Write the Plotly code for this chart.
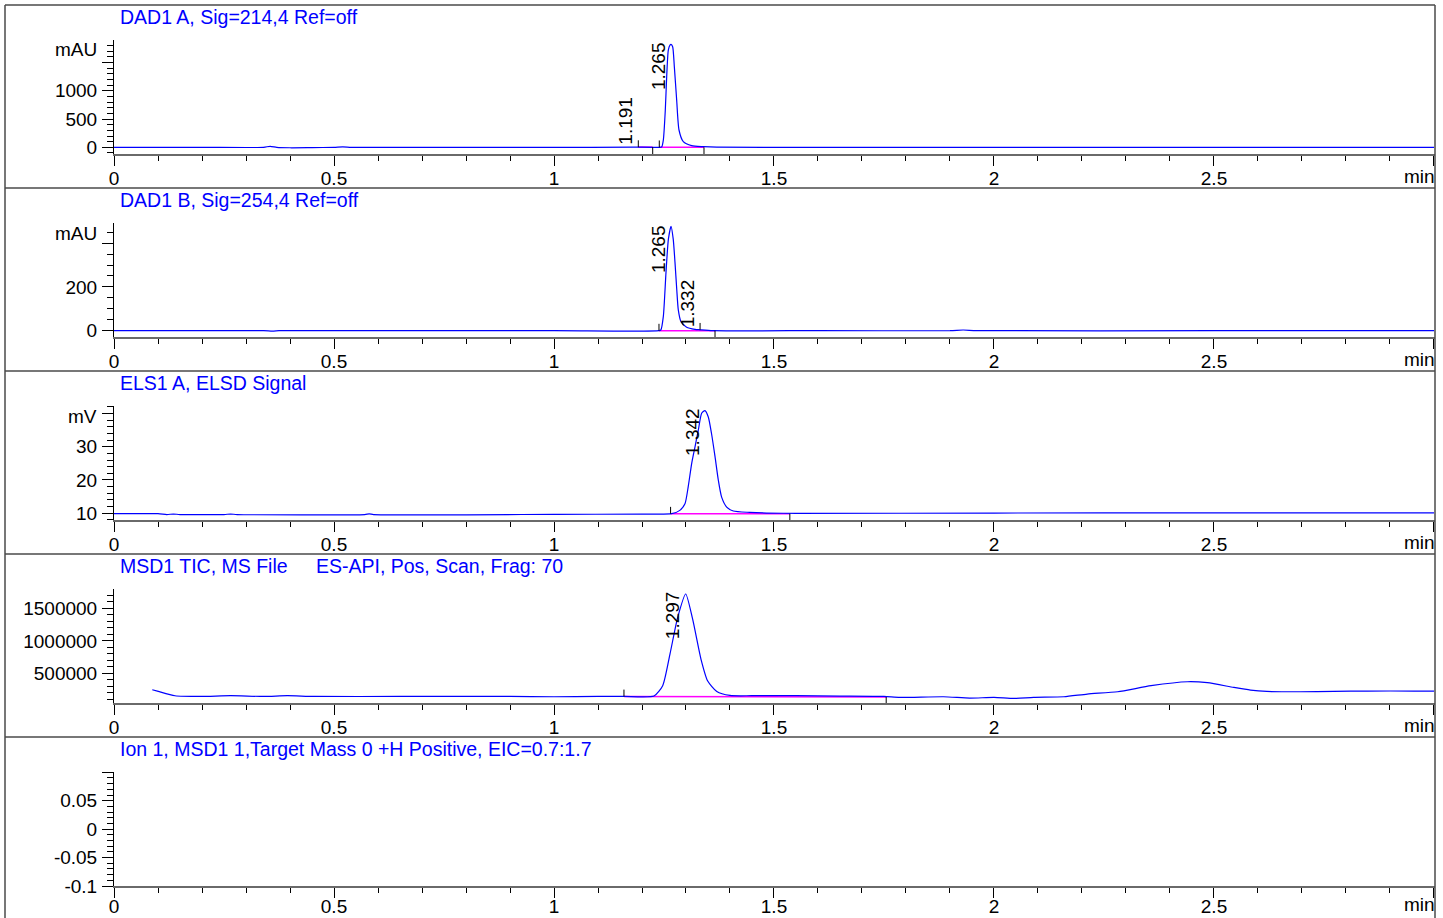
import plotly.graph_objects as go

W, H = 1443, 918
FONT = "Liberation Sans, Arial, sans-serif"
BLUE = "#0000FF"
MAGENTA = "#FF00FF"

# ---------------- data ----------------
titles = [
    ["DAD1 A, Sig=214,4 Ref=off"],
    ["DAD1 B, Sig=254,4 Ref=off"],
    ["ELS1 A, ELSD Signal"],
    ["MSD1 TIC, MS File", "ES-API, Pos, Scan, Frag: 70"],
    ["Ion 1, MSD1 1,Target Mass 0 +H Positive, EIC=0.7:1.7"],
]
units = ["mAU", "mAU", "mV", "", ""]

x_tick_vals = [0, 0.5, 1, 1.5, 2, 2.5, 3]
x_tick_text = ["0", "0.5", "1", "1.5", "2", "2.5", ""]

# DAD1 A (mAU)
dad_a_t = [0.00, 0.20, 0.34, 0.355, 0.37, 0.40, 0.45, 0.50, 0.52, 0.54, 0.70, 1.00, 1.18, 1.191,
           1.20, 1.235, 1.2447, 1.2485, 1.2530, 1.2561, 1.2598, 1.2636, 1.2659, 1.2697, 1.2735,
           1.2788, 1.2841, 1.2939, 1.3129, 1.3394, 1.37, 1.60, 2.00, 2.50, 3.00]
dad_a_v = [0, 0, 0, 18, 0, -8, -5, 0, 8, 0, 0, 0, 2, 4,
           2, 0, 5, 129, 659, 1248, 1719, 1807, 1820, 1778, 1425,
           836, 306, 100, 29, 12, 2, 0, 0, 0, 0]

# DAD1 B (mAU)
dad_b_t = [0.00, 0.34, 0.36, 0.375, 0.40, 1.00, 1.2386, 1.2430, 1.2485, 1.2545, 1.2600, 1.2660,
           1.2710, 1.2750, 1.2790, 1.2825, 1.2886, 1.3015, 1.3205, 1.3320, 1.3610, 1.60, 1.90,
           1.93, 1.96, 2.50, 3.00]
dad_b_v = [0, 0, -2, 0, 0, 0, 0, 4, 65, 264, 418, 477,
           418, 312, 188, 95, 41, 16, 6, 4, 0, 0, 0,
           3, 0, 0, 0]

# ELSD (mV)
elsd_t = [0.00, 0.10, 0.12, 0.135, 0.15, 0.25, 0.265, 0.28, 0.57, 0.58, 0.59, 1.00, 1.20, 1.2674,
          1.286, 1.2977, 1.305, 1.313, 1.3205, 1.328, 1.3356, 1.343, 1.3507, 1.358, 1.366, 1.3735,
          1.381, 1.3925, 1.4075, 1.445, 1.483, 1.55, 2.00, 2.50, 3.00]
elsd_v = [9.8, 9.8, 9.55, 9.7, 9.55, 9.55, 9.7, 9.55, 9.55, 9.75, 9.55, 9.6, 9.7, 9.8,
          10.8, 12.8, 17.9, 25.0, 30.0, 35.0, 40.1, 40.9, 39.0, 34.0, 27.0, 19.9,
          14.8, 11.8, 10.6, 10.2, 10.0, 9.9, 10.0, 10.05, 10.05]

# MSD1 TIC (counts)
tic_t = [0.087, 0.1007, 0.1386, 0.197, 0.2652, 0.341, 0.394, 0.455, 0.65, 0.90, 1.00, 1.10, 1.159,
         1.2273, 1.247, 1.2636, 1.2811, 1.2993, 1.315, 1.334, 1.349, 1.370, 1.400, 1.45, 1.55,
         1.65, 1.75, 1.786, 1.885, 1.945, 2.0, 2.045, 2.09, 2.159, 2.212, 2.281, 2.357, 2.44,
         2.485, 2.545, 2.583, 2.62, 2.696, 2.772, 2.848, 2.955, 3.0]
tic_v = [249000, 223000, 157000, 146000, 157000, 146000, 157000, 146000, 146000, 146000, 141000,
         146000, 146000, 152000, 311000, 798000, 1361000, 1721000, 1337000, 721000, 388000, 223000,
         161000, 157000, 157000, 152000, 146000, 131000, 141000, 121000, 131000, 115000, 131000,
         141000, 183000, 218000, 311000, 372000, 357000, 285000, 244000, 223000, 218000, 223000,
         229000, 229000, 229000]

# EIC (empty signal)
eic_t = []
eic_v = []

signals_t = [dad_a_t, dad_b_t, elsd_t, tic_t, eic_t]
signals_v = [dad_a_v, dad_b_v, elsd_v, tic_v, eic_v]
signal_shape = ["spline", "spline", "spline", "spline", "linear"]

# integration baselines (start t, end t, start value, end value)
baselines = [
    [(1.1916, 1.2243, 3, 3), (1.2393, 1.3409, 0, 0)],
    [(1.2386, 1.3660, 0, 0)],
    [(1.265, 1.536, 9.8, 9.8)],
    [(1.159, 1.755, 146000, 137000)],
    [],
]
# integration event markers (time, value, direction)
events = [
    [(1.1916, 3, "up"), (1.2243, 3, "down"), (1.2393, 0, "up"), (1.3409, 0, "down")],
    [(1.2386, 0, "up"), (1.332, 4, "up"), (1.366, 0, "down")],
    [(1.265, 9.8, "up"), (1.536, 9.8, "down")],
    [(1.159, 146000, "up"), (1.755, 137000, "down")],
    [],
]
# peak labels (retention time, height, placement)
peaks = [
    [(1.191, 4, "base"), (1.265, 1820, "top")],
    [(1.265, 477, "top"), (1.332, 4, "base")],
    [(1.342, 40.9, "top")],
    [(1.297, 1721000, "top")],
    [],
]

y_ranges = [[-118, 1896], [-29, 492], [7.9, 42.3], [45000, 1798000], [-0.1, 0.1005]]
y_tick_vals = [[0, 500, 1000, 1500], [0, 200, 400], [10, 20, 30, 40],
               [500000, 1000000, 1500000], [-0.1, -0.05, 0, 0.05, 0.1]]
y_tick_text = [["0", "500", "1000", ""], ["0", "200", ""], ["10", "20", "30", ""],
               ["500000", "1000000", "1500000"], ["-0.1", "-0.05", "0", "0.05", ""]]
y_minor = [100, 50, 2, 100000, 0.01]
x_range = [0, 3.0023]
x_label_standoff = [-4, -4, -4, -4, -8]

# ---------------- layout helpers ----------------
def px(x):
    return x / W

def py(y):
    return 1 - y / H

X0, X1 = 114, 1435
PANEL_TOP0, PANEL_H = 5, 183
TICK_FS = 19
TITLE_FS = 19.5

fig = go.Figure()
shapes = []
annotations = []
layout = {}

for i in range(5):
    n = i + 1
    T = PANEL_TOP0 + PANEL_H * i
    xa = "xaxis" if n == 1 else f"xaxis{n}"
    ya = "yaxis" if n == 1 else f"yaxis{n}"
    xr = "x" if n == 1 else f"x{n}"
    yr = "y" if n == 1 else f"y{n}"
    ylo, yhi = y_ranges[i]
    span = yhi - ylo

    layout[xa] = dict(
        domain=[px(X0), px(X1)], range=x_range, anchor=yr, automargin=False,
        showline=True, linecolor="#6a6a6a", linewidth=2,
        ticks="outside", ticklen=10, tickwidth=1, tickcolor="black",
        tickmode="array", tickvals=x_tick_vals, ticktext=x_tick_text,
        minor=dict(ticks="outside", ticklen=5, tickwidth=1, tickcolor="black",
                   tick0=0, dtick=0.1),
        tickfont=dict(family=FONT, size=TICK_FS, color="black"),
        ticklabelstandoff=x_label_standoff[i],
        showgrid=False, zeroline=False, fixedrange=True,
    )
    layout[ya] = dict(
        domain=[py(T + 149), py(T + 35)], range=y_ranges[i], anchor=xr, automargin=False,
        showline=True, linecolor="black", linewidth=1,
        ticks="outside", ticklen=11, tickwidth=1, tickcolor="black",
        tickmode="array", tickvals=y_tick_vals[i], ticktext=y_tick_text[i],
        minor=dict(ticks="outside", ticklen=6, tickwidth=1, tickcolor="black",
                   tick0=0, dtick=y_minor[i]),
        tickfont=dict(family=FONT, size=TICK_FS, color="black"),
        ticklabelstandoff=1,
        showgrid=False, zeroline=False, fixedrange=True,
    )

    # integration baselines (magenta)
    for (t0, t1, v0, v1) in baselines[i]:
        fig.add_trace(go.Scatter(x=[t0, t1], y=[v0, v1], mode="lines",
                                 line=dict(color=MAGENTA, width=1.5),
                                 xaxis=xr, yaxis=yr, showlegend=False, hoverinfo="skip"))

    # signal (an empty trace still creates the subplot's axes)
    fig.add_trace(go.Scatter(x=signals_t[i] if signals_t[i] else [None],
                             y=signals_v[i] if signals_v[i] else [None],
                             mode="lines",
                             line=dict(color=BLUE, width=1.2, shape=signal_shape[i],
                                       smoothing=0.6),
                             xaxis=xr, yaxis=yr, showlegend=False, hoverinfo="skip"))

    # event markers
    ex, ey = [], []
    for (t, v, d) in events[i]:
        if d == "up":
            ex += [t, t, None]
            ey += [v, v + 0.06 * span, None]
        else:
            ex += [t, t, None]
            ey += [v, ylo, None]
    if ex:
        fig.add_trace(go.Scatter(x=ex, y=ey, mode="lines",
                                 line=dict(color="black", width=1),
                                 xaxis=xr, yaxis=yr, showlegend=False, hoverinfo="skip"))

    # peak labels
    for (rt, h, mode) in peaks[i]:
        if mode == "top":
            annotations.append(dict(x=rt, xref=xr, y=1, yref=f"{yr} domain",
                                    text=f"{rt:.3f}", textangle=-90, showarrow=False,
                                    xanchor="right", yanchor="top",
                                    font=dict(family=FONT, size=19, color="black")))
        else:
            annotations.append(dict(x=rt, xref=xr, y=h, yref=yr,
                                    text=f"{rt:.3f}", textangle=-90, showarrow=False,
                                    xanchor="right", yanchor="bottom",
                                    font=dict(family=FONT, size=19, color="black")))

    # titles
    title_x = [118, 314]
    for k, ttl in enumerate(titles[i]):
        annotations.append(dict(x=px(title_x[k]), xref="paper", y=py(T + 12), yref="paper",
                                text=ttl, showarrow=False, xanchor="left", yanchor="middle",
                                font=dict(family=FONT, size=TITLE_FS, color=BLUE)))
    # units
    if units[i]:
        annotations.append(dict(x=px(99), xref="paper", y=py(T + 45), yref="paper",
                                text=units[i], showarrow=False, xanchor="right", yanchor="middle",
                                font=dict(family=FONT, size=TICK_FS, color="black")))
    # "min"
    min_y = T + 171 if i < 4 else T + 167
    annotations.append(dict(x=px(1437), xref="paper", y=py(min_y), yref="paper",
                            text="min", showarrow=False, xanchor="right", yanchor="middle",
                            font=dict(family=FONT, size=TICK_FS, color="black")))

    # panel separator line
    shapes.append(dict(type="line", xref="paper", yref="paper",
                       x0=px(5), x1=px(1435), y0=py(T), y1=py(T),
                       line=dict(color="#4a4a4a", width=1.5)))

# vertical panel borders
for xb in (5, 1435):
    shapes.append(dict(type="line", xref="paper", yref="paper",
                       x0=px(xb), x1=px(xb), y0=py(5), y1=0,
                       line=dict(color="#4a4a4a", width=1.5)))

fig.update_layout(
    width=W, height=H, margin=dict(l=0, r=0, t=0, b=0, pad=0, autoexpand=False),
    paper_bgcolor="white", plot_bgcolor="white",
    shapes=shapes, annotations=annotations, showlegend=False,
    font=dict(family=FONT, size=TICK_FS, color="black"),
    **layout,
)

page_fix = (
    "document.documentElement.style.margin='0';"
    "document.documentElement.style.overflow='hidden';"
    "document.body.style.margin='0';"
    "document.body.style.padding='0';"
    "document.body.style.overflow='hidden';"
    "var gd=document.getElementById('{plot_id}');"
    "if(gd&&gd.parentElement){gd.parentElement.style.height='918px';"
    "gd.parentElement.style.overflow='hidden';}"
)
fig.write_html("out.html", config={"displayModeBar": False}, post_script=page_fix)
